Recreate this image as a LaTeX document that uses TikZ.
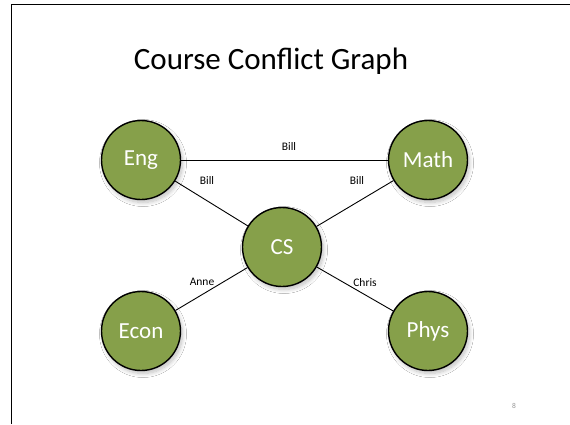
\documentclass[tikz,border=0pt]{standalone}
\usepackage{fontspec}
\setmainfont{Carlito}
\usetikzlibrary{shadows.blur}
\definecolor{olive}{RGB}{134,160,74}
\definecolor{pagegrey}{RGB}{150,150,150}
\tikzset{
  course/.style={circle, draw=black, line width=1.4pt, fill=olive, minimum size=79pt, inner sep=0pt,
    text=white, font=\fontsize{23}{26}\selectfont,
    blur shadow={shadow xshift=2pt, shadow yshift=-3pt, shadow blur radius=4pt, shadow blur steps=10, shadow opacity=25}},
  conflict/.style={draw=black, line width=0.9pt},
  elabel/.style={font=\fontsize{11.5}{13}\selectfont, text=black, inner sep=1pt}
}
\begin{document}
\begin{tikzpicture}[x=1pt,y=-1pt]
\useasboundingbox (0,0) rectangle (570,424);
\fill[white] (0,0) rectangle (570,424);
\draw[line width=1.6pt] (11.5,424) -- (11.5,4.5) -- (570,4.5);
\node[font=\fontsize{31}{36}\selectfont] (title) at (271,61) {Course Conflict Graph};
\node[course] (eng) at (141,160) {Eng};
\node[course] (math) at (428,160) {Math};
\node[course] (cs) at (282,247) {CS};
\node[course] (econ) at (141,331) {Econ};
\node[course] (phys) at (428,331) {Phys};
\draw[conflict] (eng) -- (math);
\draw[conflict] (eng) -- (cs);
\draw[conflict] (math) -- (cs);
\draw[conflict] (econ) -- (cs);
\draw[conflict] (phys) -- (cs);
\node[elabel] (l1) at (289,147) {Bill};
\node[elabel] (l2) at (207,181) {Bill};
\node[elabel] (l3) at (357,181) {Bill};
\node[elabel] (l4) at (202,282) {Anne};
\node[elabel] (l5) at (365,283) {Chris};
\node[font=\fontsize{7.5}{9}\selectfont, text=pagegrey] (pg) at (514,406) {8};
\end{tikzpicture}
\end{document}
